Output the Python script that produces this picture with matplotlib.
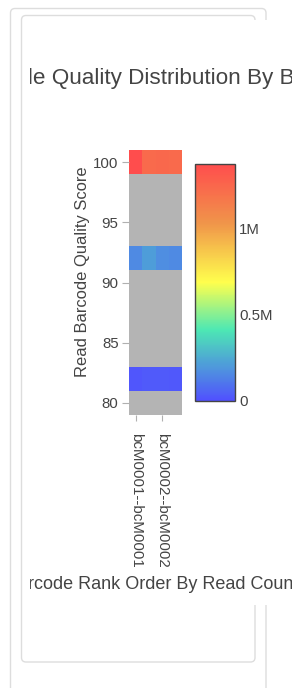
import numpy as np
import matplotlib
matplotlib.use("Agg")
import matplotlib.pyplot as plt
from matplotlib.colors import LinearSegmentedColormap
from matplotlib.patches import FancyBboxPatch

# data
score_rows = [82, 92, 100]
column_names = ['bcM0001--bcM0001', '', 'bcM0002--bcM0002', '']
counts_82 = [0.02e6, 0.03e6, 0.03e6, 0.025e6]
counts_92 = [0.16e6, 0.21e6, 0.17e6, 0.16e6]
counts_100 = [1.37e6, 1.23e6, 1.24e6, 1.23e6]
cbar_ticks = [0, 0.5e6, 1e6]
cbar_labels = ['0', '0.5M', '1M']

W, H = 295, 688
TXT = '#444444'
plt.rcParams['font.family'] = ['Liberation Sans', 'DejaVu Sans']


def box(x0, y0, x1, y1):
    # pixel box (top-left origin) -> figure fraction rect
    return [x0 / W, 1 - y1 / H, (x1 - x0) / W, (y1 - y0) / H]


def card(fig, x0, y0, x1, y1):
    p = FancyBboxPatch((x0 / 100, (H - y1) / 100), (x1 - x0) / 100, (y1 - y0) / 100,
                       boxstyle='round,pad=0,rounding_size=0.045',
                       transform=fig.dpi_scale_trans, facecolor='white',
                       edgecolor='#dddddd', linewidth=1, zorder=-2)
    fig.add_artist(p)


def main():
    fig = plt.figure(figsize=(W / 100, H / 100), dpi=100)
    card(fig, 10.5, 8.5, 266, 720)
    card(fig, 21.5, 15.5, 255, 662)

    # white plot area that hides the card edges, also clips the long titles
    cover = fig.add_axes(box(30, 20, 292, 605))
    cover.set_xticks([])
    cover.set_yticks([])
    for s in cover.spines.values():
        s.set_visible(False)
    cover.text(-31 / W, 1 - 84 / H, 'Sample Quality Distribution By Barcode',
               transform=fig.transFigure, fontsize=16.2, color=TXT,
               ha='left', va='baseline', clip_on=True)
    cover.text(5.5 / W, 1 - 589 / H, 'Barcode Rank Order By Read Count',
               transform=fig.transFigure, fontsize=13, color=TXT,
               ha='left', va='baseline', clip_on=True)

    # heatmap grid
    y_edges = np.arange(79, 102, 2)
    x_edges = np.arange(len(column_names) + 1) - 0.5
    z = np.full((len(y_edges) - 1, len(column_names)), np.nan)
    for score, counts in zip(score_rows, [counts_82, counts_92, counts_100]):
        z[(score - 80) // 2] = counts

    cmap = LinearSegmentedColormap.from_list('q', [
        (0.0, '#5050ff'), (0.3, '#4de8b4'), (0.5, '#ffff4d'),
        (0.75, '#f0954a'), (1.0, '#ff4d4d')])

    ax = fig.add_axes(box(129, 150, 182, 415))
    ax.set_facecolor('#b4b4b4')
    mesh = ax.pcolormesh(x_edges, y_edges, np.ma.masked_invalid(z), cmap=cmap,
                         vmin=0, vmax=1.37e6)
    ax.set_ylim(79, 101)
    ax.set_xlim(-0.5, len(column_names) - 0.5)
    for s in ax.spines.values():
        s.set_visible(False)
    ax.set_yticks([80, 85, 90, 95, 100])
    ticks = [i for i, n in enumerate(column_names) if n]
    ax.set_xticks(ticks)
    ax.set_xticklabels([column_names[i] for i in ticks], rotation=270, fontsize=10.9)
    ax.tick_params(axis='y', labelsize=10.8, length=5, width=0.8, pad=2.5,
                   colors='#b0b0b0', labelcolor=TXT)
    ax.tick_params(axis='x', length=4.3, width=0.8, pad=8.5,
                   colors='#b0b0b0', labelcolor=TXT)
    ax.set_ylabel('Read Barcode Quality Score', fontsize=11.9, color=TXT)
    ax.yaxis.set_label_coords((90 - 129) / 53, (415 - 272) / 265)

    cax = fig.add_axes(box(195, 164, 235, 401))
    cb = fig.colorbar(mesh, cax=cax)
    cb.outline.set_edgecolor('#444444')
    cb.outline.set_linewidth(1.0)
    cb.set_ticks(cbar_ticks)
    cb.set_ticklabels(cbar_labels)
    cax.tick_params(length=0, pad=3, labelsize=10.8, labelcolor=TXT)

    fig.savefig('out.png', dpi=100)


if __name__ == '__main__':
    main()
